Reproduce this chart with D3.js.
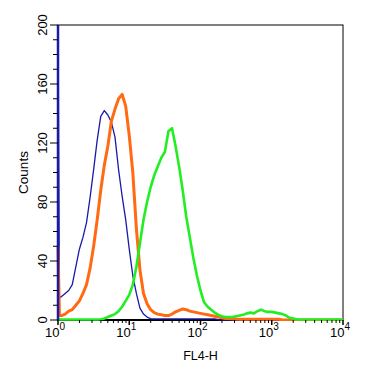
<!DOCTYPE html>
<meta charset="utf-8">
<script src="https://d3js.org/d3.v7.min.js"></script>
<style>
body { margin: 0; background: #fff; }
svg text { font-family: "Liberation Sans", Arial, sans-serif; fill: #000; }
</style>
<body></body>
<script>

// channel positions in decades (log10 of FL4-H)
var channels = [0, 0.02].concat(d3.range(0.05, 4.001, 0.05));

// counts per channel
var blueCounts = [210, 15, 16, 18, 20, 24, 36, 48, 56, 66, 83, 102, 122, 138, 142, 139, 134, 124, 102, 84, 68,
  48, 30, 18, 8, 4, 2, 1, 0.7, 0.7, 0.7, 0.7, 0.7, 0.7, 0.7, 0.7, 0.7, 0.7, 0.7, 0.7, 0.7, 0.7, 0.7, 0.7, 0.7, 0.7,
  0.3, 0, 0, 0, 0, 0, 0, 0, 0, 0, 0, 0, 0, 0, 0, 0, 0, 0, 0, 0, 0, 0, 0, 0, 0, 0, 0, 0, 0, 0, 0, 0, 0, 0, 0, 0];

var orangeCounts = [50, 3, 3, 4, 6, 7, 10, 13, 18, 24, 35, 50, 68, 88, 105, 118, 135, 143, 150, 153, 145,
  125, 100, 62, 34, 18, 11, 7, 5, 4, 3.5, 3, 3, 4, 5.5, 6.5, 7.5, 7, 6, 5.5, 5, 4.5, 4, 3.5, 3, 2.5, 2,
  1.5, 1, 1, 0.8, 0.6, 0.5, 0.5, 0.5, 0.5, 0.5, 0.5, 0.5, 0.5, 0.5, 0.5, 0.5, 0.5, 0, 0, 0, 0, 0, 0, 0, 0, 0,
  0, 0, 0, 0, 0, 0, 0, 0, 0, 0];

var greenCounts = [0.3, 0.3, 0.3, 0.3, 0.3, 0.3, 0.3, 0.3, 0.3, 0.3, 0.3, 0.3, 0.3, 0.5, 1, 2, 3, 4, 6, 9, 13,
  17, 24, 36, 52, 68, 80, 90, 98, 104, 110, 114, 128, 130, 118, 104, 88, 70, 56, 42, 30, 20, 12, 9, 7, 5, 3.5,
  2.5, 2, 2, 2, 2.5, 3, 3.5, 4.5, 5, 4.5, 6, 7, 6, 5.5, 5.5, 5, 4.5, 4, 3, 1.5, 1, 0.5, 0.3, 0.3, 0.3, 0.3,
  0.3, 0.3, 0.3, 0.3, 0.3, 0.3, 0.3, 0.3, 0.3, 0.3];

var yTicks = [0, 40, 80, 120, 160, 200];
var xDecades = [0, 1, 2, 3, 4];

var margin = {top: 25, right: 43, bottom: 53, left: 58};
var width = 386 - margin.left - margin.right,
    height = 373 - margin.top - margin.bottom;

var svg = d3.select("body").append("svg")
    .attr("width", 386)
    .attr("height", 373)
  .append("g")
    .attr("transform", "translate(" + margin.left + "," + margin.top + ")");

var xScale = d3.scaleLinear().domain([0, 4]).range([0, width]);
var yScale = d3.scaleLinear().domain([0, 200]).range([height, 0]);

// frame
svg.append("rect")
  .attr("width", width).attr("height", height)
  .attr("fill", "none").attr("stroke", "#000").attr("stroke-width", 1);
svg.append("path")
  .attr("d", "M0,0V" + height + "H" + width)
  .attr("fill", "none").attr("stroke", "#000").attr("stroke-width", 1.8);

svg.append("clipPath").attr("id", "plotClip")
  .append("rect").attr("x", -2).attr("width", width + 2).attr("height", height + 1);

// histograms
var series = [
  {counts: blueCounts, color: "#1a1aa8", w: 1.3},
  {counts: orangeCounts, color: "#ff6a13", w: 3},
  {counts: greenCounts, color: "#22ee22", w: 2.6}
];

var line = d3.line()
  .x(function(d) { return xScale(d[0]); })
  .y(function(d) { return yScale(d[1]); });

svg.append("g").attr("clip-path", "url(#plotClip)")
  .selectAll("path")
  .data(series).enter().append("path")
  .attr("fill", "none")
  .attr("stroke", function(d) { return d.color; })
  .attr("stroke-width", function(d, i) { return d.w; })
  .attr("stroke-linejoin", "round")
  .attr("d", function(d) { return line(channels.map(function(c, i) { return [c, d.counts[i]]; })); });

// blue first channel sits right on the axis, draw it thick like the original
svg.append("line")
  .attr("x1", xScale(channels[0])).attr("x2", xScale(channels[0]))
  .attr("y1", yScale(0)).attr("y2", yScale(200))
  .attr("stroke", "#1a1aa8").attr("stroke-width", 2.5);

// y axis ticks
var yMinor = d3.range(0, 201, 10);
svg.append("g").selectAll("line")
  .data(yMinor).enter().append("line")
  .attr("x1", 0)
  .attr("x2", function(d) { return d % 40 === 0 ? -8 : -5; })
  .attr("y1", function(d) { return yScale(d); })
  .attr("y2", function(d) { return yScale(d); })
  .attr("stroke", "#000");

svg.append("g").selectAll("text")
  .data(yTicks).enter().append("text")
  .attr("transform", function(d) { return "translate(-11," + yScale(d) + ") rotate(-90)"; })
  .attr("text-anchor", "middle")
  .attr("font-size", "13px")
  .text(function(d) { return d; });

// x axis log ticks
var xMinor = [];
xDecades.slice(0, 4).forEach(function(p) {
  for (var k = 2; k <= 9; k++) xMinor.push(p + Math.log10(k));
});

svg.append("g").selectAll("line")
  .data(xMinor).enter().append("line")
  .attr("x1", function(d) { return xScale(d); })
  .attr("x2", function(d) { return xScale(d); })
  .attr("y1", height).attr("y2", height + 3)
  .attr("stroke", "#000");

svg.append("g").selectAll("line")
  .data(xDecades).enter().append("line")
  .attr("x1", function(d) { return xScale(d); })
  .attr("x2", function(d) { return xScale(d); })
  .attr("y1", height).attr("y2", height + 5)
  .attr("stroke", "#000").attr("stroke-width", 1.5);

var xLab = svg.append("g").selectAll("text")
  .data(xDecades).enter().append("text")
  .attr("x", function(d) { return xScale(d) - 13; })
  .attr("y", height + 17)
  .attr("font-size", "13px");
xLab.append("tspan").text("10");
xLab.append("tspan")
  .attr("font-size", "10px")
  .attr("dy", -7)
  .text(function(d) { return d; });

// axis titles
svg.append("text")
  .attr("x", width / 2).attr("y", height + 40)
  .attr("text-anchor", "middle")
  .attr("font-size", "12.5px")
  .text("FL4-H");

svg.append("text")
  .attr("transform", "translate(-30," + height / 2 + ") rotate(-90)")
  .attr("text-anchor", "middle")
  .attr("font-size", "13.5px")
  .text("Counts");

</script>
